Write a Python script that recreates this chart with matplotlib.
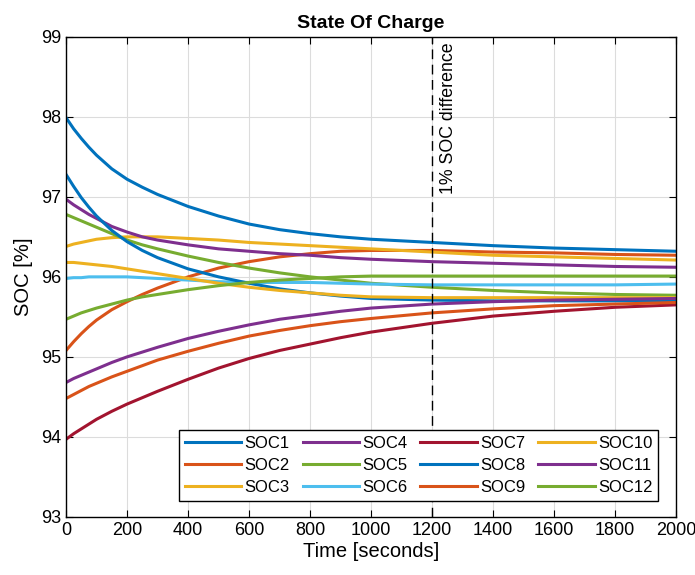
import matplotlib
matplotlib.use("Agg")
import matplotlib.pyplot as plt

plt.rcParams['font.family'] = ['Liberation Sans', 'DejaVu Sans']

# time points the curves were read at (seconds)
t = [0, 25, 50, 75, 100, 150, 200, 250, 300, 400, 500, 600, 700, 800, 900, 1000,
     1200, 1400, 1600, 1800, 2000]

soc1 = [97.99, 97.85, 97.73, 97.62, 97.52, 97.35, 97.22, 97.12, 97.03, 96.88, 96.76,
        96.66, 96.59, 96.54, 96.50, 96.47, 96.43, 96.39, 96.36, 96.34, 96.32]
soc2 = [95.08, 95.19, 95.29, 95.38, 95.46, 95.59, 95.69, 95.78, 95.86, 96.00, 96.11,
        96.19, 96.25, 96.29, 96.32, 96.33, 96.33, 96.31, 96.30, 96.28, 96.27]
soc3 = [96.38, 96.41, 96.43, 96.45, 96.47, 96.49, 96.50, 96.50, 96.50, 96.48, 96.46,
        96.43, 96.41, 96.39, 96.37, 96.35, 96.31, 96.27, 96.25, 96.23, 96.21]
soc4 = [96.97, 96.90, 96.84, 96.78, 96.73, 96.63, 96.56, 96.50, 96.46, 96.40, 96.35,
        96.32, 96.29, 96.27, 96.24, 96.22, 96.19, 96.17, 96.15, 96.13, 96.12]
soc5 = [96.78, 96.74, 96.70, 96.66, 96.62, 96.54, 96.46, 96.40, 96.35, 96.26, 96.18,
        96.11, 96.05, 96.00, 95.96, 95.92, 95.87, 95.83, 95.80, 95.78, 95.77]
soc6 = [95.98, 95.99, 95.99, 96.00, 96.00, 96.00, 96.00, 95.99, 95.98, 95.96, 95.94,
        95.93, 95.93, 95.93, 95.92, 95.91, 95.90, 95.90, 95.90, 95.90, 95.91]
soc7 = [93.97, 94.04, 94.10, 94.16, 94.22, 94.32, 94.41, 94.49, 94.57, 94.72, 94.86,
        94.98, 95.08, 95.16, 95.24, 95.31, 95.42, 95.51, 95.57, 95.62, 95.65]
soc8 = [97.28, 97.13, 96.99, 96.87, 96.76, 96.58, 96.44, 96.33, 96.24, 96.10, 96.00,
        95.92, 95.85, 95.80, 95.76, 95.73, 95.71, 95.70, 95.70, 95.70, 95.70]
soc9 = [94.48, 94.53, 94.58, 94.63, 94.67, 94.75, 94.82, 94.89, 94.96, 95.07, 95.17,
        95.26, 95.33, 95.39, 95.44, 95.48, 95.55, 95.60, 95.64, 95.66, 95.68]
soc10 = [96.18, 96.18, 96.17, 96.16, 96.15, 96.13, 96.10, 96.07, 96.04, 95.98, 95.92,
         95.87, 95.83, 95.80, 95.77, 95.75, 95.74, 95.74, 95.74, 95.74, 95.74]
soc11 = [94.68, 94.73, 94.77, 94.81, 94.85, 94.93, 95.00, 95.06, 95.12, 95.23, 95.32,
         95.40, 95.47, 95.52, 95.57, 95.61, 95.66, 95.69, 95.71, 95.72, 95.73]
soc12 = [95.47, 95.51, 95.55, 95.58, 95.61, 95.66, 95.71, 95.75, 95.78, 95.84, 95.89,
         95.93, 95.96, 95.98, 96.00, 96.01, 96.01, 96.01, 96.01, 96.01, 96.01]

series = [soc1, soc2, soc3, soc4, soc5, soc6, soc7, soc8, soc9, soc10, soc11, soc12]
labels = ["SOC%d" % (i + 1) for i in range(12)]

# matlab default color order, repeats after 7
colors = ['#0072BD', '#D95319', '#EDB120', '#7E2F8E', '#77AC30', '#4DBEEE', '#A2142F']

fig = plt.figure(figsize=(6.95, 5.75), dpi=100)
ax = fig.add_axes([0.095, 0.101, 0.878, 0.835])

for i, s in enumerate(series):
    ax.plot(t, s, color=colors[i % 7], lw=2.2, label=labels[i],
            solid_joinstyle='round')

ax.axvline(1200, color='k', ls=(0, (7, 4)), lw=1.0)
ax.text(1226, 98.93, "1% SOC difference", rotation=90, ha='left', va='top', fontsize=12.8)

ax.set_xlim(0, 2000)
ax.set_ylim(93, 99)
ax.set_xticks(range(0, 2001, 200))
ax.set_yticks(range(93, 100))
ax.grid(True, color='#dcdcdc', lw=0.8)
ax.tick_params(direction='in', top=True, right=True, labelsize=13, length=5)
for sp in ax.spines.values():
    sp.set_linewidth(1.0)

ax.set_title("State Of Charge", fontsize=14, fontweight='bold', pad=6)
ax.set_xlabel("Time [seconds]", fontsize=14.5, labelpad=2)
ax.set_ylabel("SOC [%]", fontsize=14.5, labelpad=6)

leg = ax.legend(ncol=4, loc='lower right', bbox_to_anchor=(0.9705, 0.033), fontsize=12,
                handlelength=3.4, handletextpad=0.2, columnspacing=0.75,
                labelspacing=0.42, borderpad=0.35, borderaxespad=0, frameon=True,
                fancybox=False, framealpha=1, edgecolor='k')
leg.get_frame().set_linewidth(1.0)

fig.savefig("out.png", dpi=100)
